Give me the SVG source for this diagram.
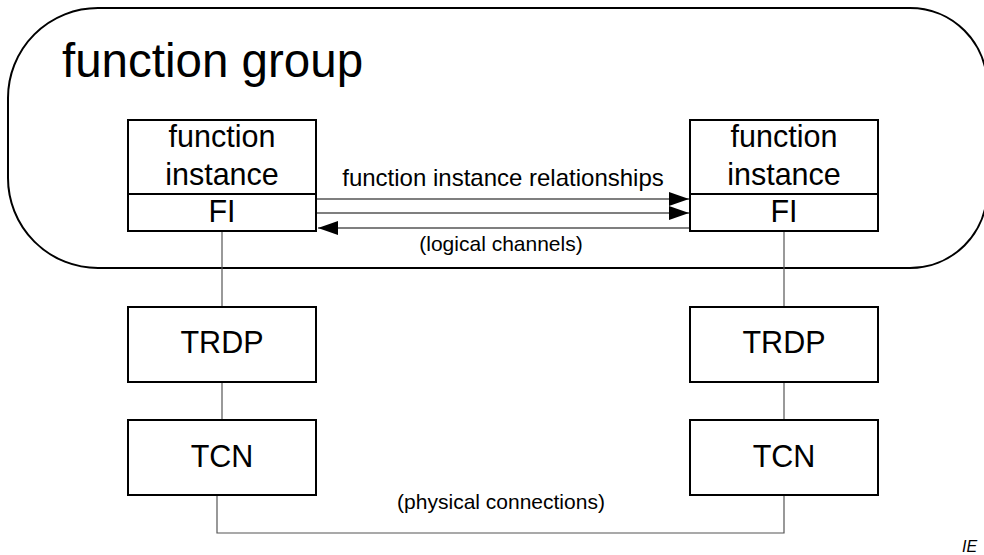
<svg xmlns="http://www.w3.org/2000/svg" width="984" height="555" viewBox="0 0 984 555">
<style>
text{font-family:"Liberation Sans",Arial,sans-serif;fill:#000;}
.box{fill:#fff;stroke:#000;stroke-width:2;}
.big{font-size:30.5px;text-anchor:middle;}
.lbl{font-size:21px;text-anchor:middle;}
.conn{fill:none;stroke:#555;stroke-width:1.2;}
.arr{fill:none;stroke:#000;stroke-width:1.2;}
</style>
<defs>
<marker id="ah" markerUnits="userSpaceOnUse" markerWidth="20" markerHeight="14" refX="20" refY="7" orient="auto">
<path d="M0,0 L20,7 L0,14 Z" fill="#000"/>
</marker>
</defs>
<g id="group">
<path d="M98 8 H910 A77 77 0 0 1 987 85 V191 A77 77 0 0 1 910 268 H98 A90 90 0 0 1 8 178 V98 A90 90 0 0 1 98 8 Z" fill="none" stroke="#000" stroke-width="2"/>
<text x="62" y="77" font-size="47.5">function group</text>
</g>
<g id="connectors">
<line class="conn" x1="222" y1="232" x2="222" y2="307"/>
<line class="conn" x1="222" y1="382" x2="222" y2="420"/>
<line class="conn" x1="784" y1="232" x2="784" y2="307"/>
<line class="conn" x1="784" y1="382" x2="784" y2="420"/>
<polyline class="conn" points="217,495 217,533 784,533 784,495"/>
<line class="arr" x1="317" y1="199" x2="689" y2="199" marker-end="url(#ah)"/>
<line class="arr" x1="317" y1="213" x2="689" y2="213" marker-end="url(#ah)"/>
<line class="arr" x1="690" y1="228" x2="318" y2="228" marker-end="url(#ah)"/>
<text x="503" y="186" font-size="24" text-anchor="middle">function instance relationships</text>
<text class="lbl" x="501" y="251">(logical channels)</text>
<text class="lbl" x="501" y="509">(physical connections)</text>
</g>
<g id="fi-left">
<rect class="box" x="128" y="120" width="188" height="111"/>
<line x1="128" y1="194" x2="316" y2="194" stroke="#000" stroke-width="2"/>
<text class="big" x="222" y="147">function</text>
<text class="big" x="222" y="185">instance</text>
<text class="big" x="222" y="222">FI</text>
</g>
<g id="fi-right">
<rect class="box" x="690" y="120" width="188" height="111"/>
<line x1="690" y1="194" x2="878" y2="194" stroke="#000" stroke-width="2"/>
<text class="big" x="784" y="147">function</text>
<text class="big" x="784" y="185">instance</text>
<text class="big" x="784" y="222">FI</text>
</g>
<g id="trdp-left">
<rect class="box" x="128" y="307" width="188" height="75"/>
<text class="big" x="222" y="353">TRDP</text>
</g>
<g id="trdp-right">
<rect class="box" x="690" y="307" width="188" height="75"/>
<text class="big" x="784" y="353">TRDP</text>
</g>
<g id="tcn-left">
<rect class="box" x="128" y="420" width="188" height="75"/>
<text class="big" x="222" y="467">TCN</text>
</g>
<g id="tcn-right">
<rect class="box" x="690" y="420" width="188" height="75"/>
<text class="big" x="784" y="467">TCN</text>
</g>
<text x="962" y="552" font-size="16" font-style="italic">IE</text>
</svg>
